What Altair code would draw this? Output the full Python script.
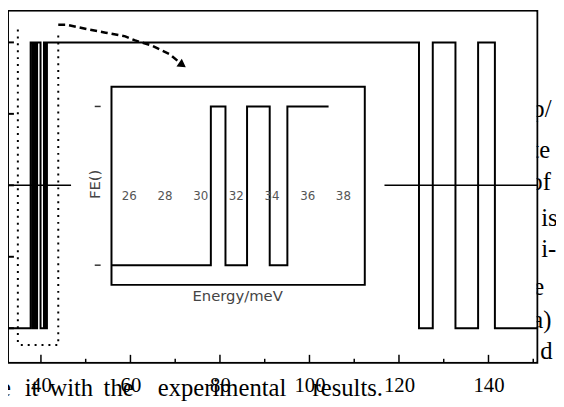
import altair as alt
import pandas as pd

# ---------------- data ----------------
# main step signal: x position of each level change, level after it
main_x = [32.64, 37.70, 38.15, 38.48, 38.81, 39.14, 39.91, 40.68, 41.01, 41.34,
          124.47, 127.55, 132.62, 137.68, 141.43, 150.9]
main_level = [0, 1, 0, 1, 0, 1, 0, 1, 0, 1, 0, 1, 0, 1, 0, 0]

# dotted guide path
dot_x = [34.84, 34.84, 35.28, 43.87, 43.87]
dot_y = [1.045, -0.052, -0.059, -0.059, 1.034]

# dashed arrow curve
dash_x = [43.87, 45.63, 50.70, 54.44, 58.85, 61.05, 64.57, 68.75, 71.62]
dash_y = [1.062, 1.062, 1.045, 1.034, 1.021, 1.007, 0.990, 0.959, 0.921]

# horizontal reference line (two pieces)
hline_x0 = [32.64, 116.76]
hline_x1 = [46.73, 150.9]
hline_y = [0.5, 0.5]

x_domain = [32.64, 150.9]
y_domain = [-0.1207, 1.1103]
x_labels = [40, 60, 80, 100, 120, 140]
x_minor = [50, 70, 90, 110, 130, 150]
y_ticks = [0, 0.25, 0.5, 0.75, 1]

# inset
inset_x = [25.0, 30.57, 31.39, 32.6, 33.87, 34.86, 37.17]
inset_level = [0, 1, 0, 1, 0, 1, 1]
inset_labels = [26, 28, 30, 32, 34, 36, 38]
inset_levels_ticks = [0, 1]
inset_x_domain = [25.0, 39.2]
inset_y_domain = [-0.124, 1.124]

# page-text fragments around the figure
right_words = ["p/", "te", "of", "is", "i-", "e", "a)", "d"]
right_wx = [540, 540, 538, 549, 549, 541, 540, 548]
right_wy = [108, 149, 182, 218, 250, 288, 322, 353]
bottom_words = ["e", "it", "with", "the", "experimental", "results."]
bottom_wx = [0, 25, 50, 105, 160, 317]

W, H = 537, 357

# ---------------- scales ----------------
xs = alt.Scale(domain=x_domain, nice=False, zero=False)
ys = alt.Scale(domain=y_domain, nice=False, zero=False)
xaxis = alt.Axis(values=x_labels, title=None, ticks=False, domain=False, grid=False,
                 labelFont="Liberation Serif", labelFontSize=21, labelColor="black",
                 labelPadding=12, labelFlush=False)

def X(f):
    return alt.X(f, type="quantitative", scale=xs, axis=xaxis)

def Y(f):
    return alt.Y(f, type="quantitative", scale=ys, axis=None)

ixs = alt.Scale(domain=inset_x_domain, range=[105, 362], nice=False, zero=False)
iys = alt.Scale(domain=inset_y_domain, range=[278, 77], nice=False, zero=False)

# ---------------- page text behind ----------------
rdf = pd.DataFrame({"w": right_words,
                    "px": [v - 8 for v in right_wx],
                    "py": [v - 8 for v in right_wy]})
right_text = alt.Chart(rdf).mark_text(
    align="left", baseline="middle", font="Liberation Serif", fontSize=25, color="black"
).encode(x=alt.X("px:Q", scale=None, axis=None),
         y=alt.Y("py:Q", scale=None, axis=None), text="w:N")

cover = alt.Chart(pd.DataFrame({"a": [0]})).mark_rect(fill="white").encode(
    x=alt.value(1), x2=alt.value(W - 1), y=alt.value(1), y2=alt.value(H - 1))

pagetext = alt.layer(right_text, cover)

# ---------------- main chart ----------------
step_df = pd.DataFrame({"x": main_x, "y": main_level, "i": range(len(main_x))})
step = alt.Chart(step_df).mark_line(interpolate="step-after", color="black",
                                    strokeWidth=2).encode(x=X("x"), y=Y("y"), order="i:Q")

dot_df = pd.DataFrame({"x": dot_x, "y": dot_y, "i": range(len(dot_x))})
dotted = alt.Chart(dot_df).mark_line(color="black", strokeWidth=2,
                                     strokeDash=[2, 5]).encode(x=X("x"), y=Y("y"), order="i:Q")

dash_df = pd.DataFrame({"x": dash_x, "y": dash_y, "i": range(len(dash_x))})
dashed = alt.Chart(dash_df).mark_line(color="black", strokeWidth=2.5,
                                      strokeDash=[7, 4]).encode(x=X("x"), y=Y("y"), order="i:Q")
arrow = alt.Chart(dash_df.tail(1)).mark_point(
    shape="triangle-right", filled=True, size=90, color="black", opacity=1, angle=35
).encode(x=X("x"), y=Y("y"))

hl_df = pd.DataFrame({"x0": hline_x0, "x1": hline_x1, "y": hline_y})
hline = alt.Chart(hl_df).mark_rule(color="black", strokeWidth=1.5).encode(
    x=X("x0"), x2="x1", y=Y("y"))

ytk = alt.Chart(pd.DataFrame({"y": y_ticks})).mark_rule(color="black", strokeWidth=2).encode(
    y=Y("y"), x=alt.value(0), x2=alt.value(6))
xtk_major = alt.Chart(pd.DataFrame({"t": x_labels})).mark_rule(color="black", strokeWidth=1.5).encode(
    x=X("t"), y=alt.value(H - 8), y2=alt.value(H))
xtk_minor = alt.Chart(pd.DataFrame({"t": x_minor})).mark_rule(color="black", strokeWidth=1.5).encode(
    x=X("t"), y=alt.value(H - 4), y2=alt.value(H))

main = alt.layer(hline, dotted, dashed, arrow, step, ytk, xtk_major, xtk_minor)

# ---------------- inset ----------------
box_df = pd.DataFrame({"x0": [inset_x_domain[0]], "x1": [inset_x_domain[1]],
                       "y0": [inset_y_domain[0]], "y1": [inset_y_domain[1]]})
box = alt.Chart(box_df).mark_rect(fill="white", stroke="black", strokeWidth=2).encode(
    x=alt.X("x0:Q", scale=ixs, axis=None), x2="x1",
    y=alt.Y("y0:Q", scale=iys, axis=None), y2="y1")

ist_df = pd.DataFrame({"x": inset_x, "y": inset_level, "i": range(len(inset_x))})
istep = alt.Chart(ist_df).mark_line(interpolate="step-after", color="black", strokeWidth=2).encode(
    x=alt.X("x:Q", scale=ixs, axis=None), y=alt.Y("y:Q", scale=iys, axis=None), order="i:Q")

ilab = alt.Chart(pd.DataFrame({"v": inset_labels})).mark_text(
    font="DejaVu Sans", fontSize=12, color="#555", baseline="middle"
).encode(x=alt.X("v:Q", scale=ixs, axis=None), y=alt.value(188), text="v:N")

iytk = alt.Chart(pd.DataFrame({"y": inset_levels_ticks})).mark_rule(color="#333", strokeWidth=1.5).encode(
    y=alt.Y("y:Q", scale=iys, axis=None), x=alt.value(88), x2=alt.value(94))

ititles = alt.Chart(pd.DataFrame({"t": ["FE()", "Energy/meV"], "px": [88, 233], "py": [176, 289],
                                  "a": [270, 0]})).mark_text(
    font="DejaVu Sans", fontSize=15, color="#444", baseline="middle", align="center"
).encode(x=alt.X("px:Q", scale=None, axis=None), y=alt.Y("py:Q", scale=None, axis=None),
         text="t:N", angle=alt.Angle("a:Q", scale=None))

inset = alt.layer(box, istep, ilab, iytk, ititles)

# ---------------- page text in front ----------------
bdf = pd.DataFrame({"w": bottom_words, "px": [v - 8 for v in bottom_wx]})
bottom_text = alt.Chart(bdf).mark_text(
    align="left", baseline="alphabetic", font="Liberation Serif", fontSize=25, color="black"
).encode(x=alt.X("px:Q", scale=None, axis=None), y=alt.value(391), text="w:N")

chart = alt.layer(pagetext, main, inset, bottom_text).resolve_scale(
    x="independent", y="independent"
).properties(
    width=W, height=H,
    autosize=alt.AutoSizeParams(type="none"),
    padding={"left": 0, "top": 0, "right": 19, "bottom": 42},
    background="white",
).configure_view(stroke="black", strokeWidth=2)

chart.save("out.html", embed_options={"renderer": "svg", "actions": False})
